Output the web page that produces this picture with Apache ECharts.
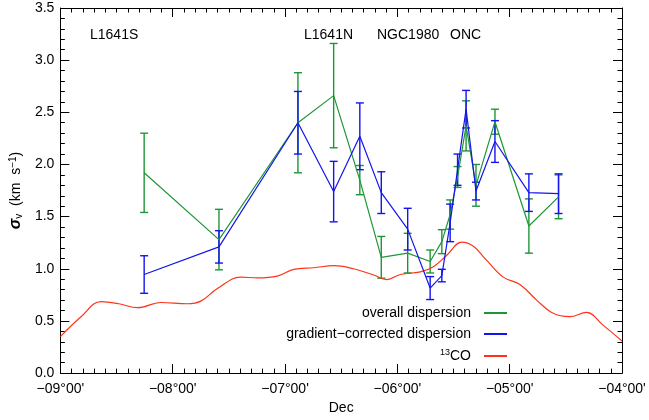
<!DOCTYPE html>
<html><head><meta charset="utf-8">
<script src="https://cdn.jsdelivr.net/npm/echarts@6/dist/echarts.min.js"></script>
<style>html,body{margin:0;padding:0;background:#fff}#c{width:649px;height:420px}</style>
</head><body><div id="c"></div>
<script>
// Dec positions (degrees) of the measurement bins
const decPositions = [-8.254, -7.588, -6.885, -6.567, -6.334, -6.143, -5.908, -5.708, -5.604, -5.530, -5.464, -5.388, -5.300, -5.131, -4.829, -4.565];
// overall dispersion (green)
const overallValues = [1.92, 1.28, 2.40, 2.66, 1.85, 1.11, 1.15, 1.07, 1.26, 1.52, 1.88, 2.37, 1.80, 2.41, 1.41, 1.69];
const overallErrors = [0.38, 0.29, 0.48, 0.50, 0.14, 0.20, 0.19, 0.11, 0.115, 0.14, 0.10, 0.24, 0.20, 0.12, 0.26, 0.21];
// gradient-corrected dispersion (blue)
const correctedValues = [0.945, 1.21, 2.40, 1.74, 2.27, 1.73, 1.38, 0.815, 0.935, 1.44, 1.95, 2.53, 1.745, 2.22, 1.73, 1.72];
const correctedErrors = [0.18, 0.155, 0.30, 0.29, 0.32, 0.20, 0.20, 0.11, 0.06, 0.18, 0.15, 0.18, 0.085, 0.20, 0.18, 0.19];
// 13CO line width profile (red)
const coDec = [-9.0, -8.816, -8.639, -8.479, -8.313, -8.106, -7.869, -7.75, -7.602, -7.395, -7.247, -7.069, -6.922, -6.744, -6.567, -6.389, -6.211, -6.092, -5.974, -5.796, -5.679, -5.560, -5.426, -5.323, -5.204, -5.057, -4.909, -4.760, -4.613, -4.465, -4.316, -4.169, -4.0];
const coValues = [0.35, 0.54, 0.685, 0.665, 0.627, 0.677, 0.665, 0.69, 0.81, 0.92, 0.913, 0.93, 0.995, 1.01, 1.03, 1.00, 0.94, 0.897, 0.945, 0.97, 1.02, 1.13, 1.255, 1.215, 1.08, 0.92, 0.85, 0.70, 0.573, 0.541, 0.582, 0.46, 0.308];
const regionLabels = ['L1641S', 'L1641N', 'NGC1980', 'ONC'];
const seriesNames = ['overall dispersion', 'gradient\u2212corrected dispersion', '13CO'];

const GREEN = '#1f9636', BLUE = '#1414ee', RED = '#ff3319';
const FONT = 'Liberation Sans';

function pairs(xs, ys) { return xs.map((x, i) => [x, ys[i]]); }
function errData(xs, ys, es) { return xs.map((x, i) => [x, ys[i] - es[i], ys[i] + es[i]]); }
function errRenderer(color) {
  return function (params, api) {
    const x = api.value(0), lo = api.value(1), hi = api.value(2);
    const a = api.coord([x, lo]), b = api.coord([x, hi]);
    const hw = 4;
    const style = { stroke: color, lineWidth: 1.4 };
    return { type: 'group', children: [
      { type: 'line', shape: { x1: a[0], y1: a[1], x2: b[0], y2: b[1] }, style },
      { type: 'line', shape: { x1: a[0] - hw, y1: a[1], x2: a[0] + hw, y2: a[1] }, style },
      { type: 'line', shape: { x1: b[0] - hw, y1: b[1], x2: b[0] + hw, y2: b[1] }, style }
    ] };
  };
}
function decFmt(v) {
  const s = v < 0 ? '\u2212' : '';
  const a = Math.abs(v);
  let d = Math.floor(a + 1e-9), m = Math.round((a - d) * 60);
  return s + String(d).padStart(2, '0') + '\u00b0' + String(m).padStart(2, '0') + "'";
}

const axisCommon = {
  axisLine: { onZero: false, lineStyle: { color: '#000', width: 1 } },
  axisTick: { inside: true, length: 9, lineStyle: { color: '#000' } },
  minorTick: { show: true, length: 4.5, lineStyle: { color: '#000' } },
  splitLine: { show: false }
};

const chart = echarts.init(document.getElementById('c'));
chart.setOption({
  backgroundColor: '#fff',
  animation: false,
  textStyle: { fontFamily: FONT },
  grid: { left: 59, right: 27, top: 8, bottom: 45 },
  xAxis: [
    Object.assign({}, axisCommon, {
      type: 'value', min: -9, max: -4, interval: 1,
      minorTick: Object.assign({}, axisCommon.minorTick, { splitNumber: 10 }),
      axisLabel: { formatter: decFmt, color: '#000', fontSize: 14, margin: 9, fontFamily: FONT },
      name: 'Dec', nameLocation: 'middle', nameGap: 27,
      nameTextStyle: { color: '#000', fontSize: 14, fontFamily: FONT }
    }),
    Object.assign({}, axisCommon, {
      type: 'value', min: -9, max: -4, interval: 1, position: 'top',
      minorTick: Object.assign({}, axisCommon.minorTick, { splitNumber: 10 }),
      axisLabel: { show: false }
    })
  ],
  yAxis: [
    Object.assign({}, axisCommon, {
      type: 'value', min: 0, max: 3.5, interval: 0.5,
      minorTick: Object.assign({}, axisCommon.minorTick, { splitNumber: 5 }),
      axisLabel: { formatter: v => v.toFixed(1), color: '#000', fontSize: 14, margin: 6, fontFamily: FONT },
      name: '{s|\u03c3}{sub|v}  (km  s{sup|\u22121})', nameLocation: 'middle', nameGap: 36, nameRotate: 90,
      nameTextStyle: {
        color: '#000', fontSize: 14, fontFamily: FONT,
        rich: {
          s: { fontSize: 16, fontWeight: 'bold', fontStyle: 'italic', fontFamily: FONT, color: '#000' },
          sub: { fontSize: 10, verticalAlign: 'bottom', padding: [6, 0, 0, 0], fontFamily: FONT, color: '#000' },
          sup: { fontSize: 10, verticalAlign: 'top', padding: [0, 0, 6, 0], fontFamily: FONT, color: '#000' }
        }
      }
    }),
    Object.assign({}, axisCommon, {
      type: 'value', min: 0, max: 3.5, interval: 0.5, position: 'right',
      minorTick: Object.assign({}, axisCommon.minorTick, { splitNumber: 5 }),
      axisLabel: { show: false }
    })
  ],
  legend: {
    orient: 'vertical', align: 'right', right: 137, top: 301, itemGap: 7,
    itemWidth: 23, itemHeight: 2, icon: 'rect',
    data: seriesNames,
    formatter: n => n === '13CO' ? '{sup|13}CO' : n,
    textStyle: {
      color: '#000', fontSize: 14, fontFamily: FONT, padding: [0, 8, 0, 0],
      rich: { sup: { fontSize: 9, verticalAlign: 'top', padding: [0, 0, 7, 0], fontFamily: FONT, color: '#000' } }
    }
  },
  graphic: [
    { type: 'text', left: 90, top: 28, style: { text: regionLabels[0], font: '14px ' + FONT, fill: '#000' } },
    { type: 'text', left: 304, top: 28, style: { text: regionLabels[1], font: '14px ' + FONT, fill: '#000' } },
    { type: 'text', left: 377, top: 28, style: { text: regionLabels[2], font: '14px ' + FONT, fill: '#000' } },
    { type: 'text', left: 450, top: 28, style: { text: regionLabels[3], font: '14px ' + FONT, fill: '#000' } }
  ],
  series: [
    { name: seriesNames[2], type: 'line', data: pairs(coDec, coValues), smooth: 0.4, showSymbol: false,
      lineStyle: { color: RED, width: 1.2 }, itemStyle: { color: RED } },
    { name: seriesNames[0], type: 'line', data: pairs(decPositions, overallValues), showSymbol: false,
      lineStyle: { color: GREEN, width: 1.2 }, itemStyle: { color: GREEN } },
    { type: 'custom', renderItem: errRenderer(GREEN), data: errData(decPositions, overallValues, overallErrors),
      encode: { x: 0, y: [1, 2] } },
    { name: seriesNames[1], type: 'line', data: pairs(decPositions, correctedValues), showSymbol: false,
      lineStyle: { color: BLUE, width: 1.2 }, itemStyle: { color: BLUE } },
    { type: 'custom', renderItem: errRenderer(BLUE), data: errData(decPositions, correctedValues, correctedErrors),
      encode: { x: 0, y: [1, 2] } }
  ]
});
</script>
</body></html>
